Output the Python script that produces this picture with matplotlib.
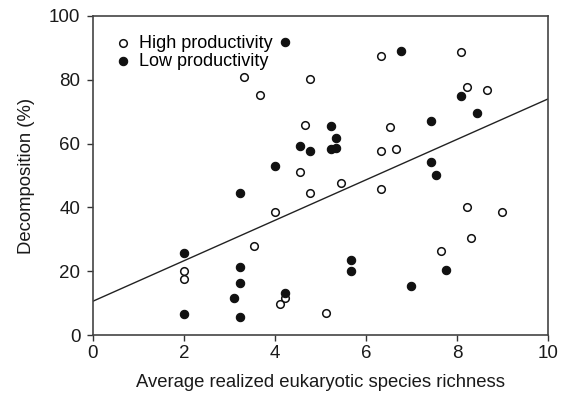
import matplotlib
matplotlib.use("Agg")
import matplotlib.pyplot as plt

plt.rcParams['font.family'] = ['Liberation Sans', 'DejaVu Sans']

high_x = [3.31, 4.77, 3.66, 4.65, 4.54, 4.78, 3.99, 3.53, 2.0, 2.0, 4.23, 4.10, 5.11,
          6.32, 8.09, 8.22, 8.66, 6.53, 6.32, 6.67, 5.44, 6.32, 8.22, 8.99, 8.31, 7.65]
high_y = [81.0, 80.3, 75.3, 65.8, 51.0, 44.5, 38.6, 28.0, 20.0, 17.6, 11.6, 9.7, 7.0,
          87.5, 88.7, 77.7, 76.8, 65.2, 57.7, 58.3, 47.6, 45.8, 40.1, 38.5, 30.4, 26.3]

low_x = [4.23, 6.78, 8.09, 8.44, 7.43, 5.22, 5.33, 4.54, 4.77, 5.22, 5.33, 7.43, 7.54,
         3.99, 3.22, 2.0, 3.22, 3.22, 3.09, 2.0, 3.22, 4.23, 5.66, 5.66, 7.76, 6.99]
low_y = [91.8, 89.0, 74.9, 69.6, 67.1, 65.5, 61.8, 59.3, 57.7, 58.3, 58.6, 54.2, 50.1,
         53.0, 44.5, 25.7, 21.3, 16.3, 11.6, 6.5, 5.7, 13.2, 23.5, 20.1, 20.4, 15.4]

fit_intercept = 10.6
fit_slope = 6.34

x_ticks = [0, 2, 4, 6, 8, 10]
y_ticks = [0, 20, 40, 60, 80, 100]

fig = plt.figure(figsize=(5.71, 3.93), dpi=100)
ax = fig.add_axes([93/571, 1 - 335/393, (548 - 93)/571, (335 - 16)/393])

ax.plot([0, 10], [fit_intercept, fit_intercept + fit_slope * 10], color='#222222', lw=1.0, zorder=1)
ax.scatter(high_x, high_y, s=30, facecolors='white', edgecolors='#111111', linewidths=1.1,
           zorder=3, label='High productivity')
ax.scatter(low_x, low_y, s=36, facecolors='#111111', edgecolors='#111111', linewidths=0.8,
           zorder=3, label='Low productivity')

ax.set_xlim(0, 10)
ax.set_ylim(0, 100)
ax.set_xticks(x_ticks)
ax.set_yticks(y_ticks)
ax.tick_params(direction='out', length=4, width=1, colors='#333333', labelsize=13.5,
               labelcolor='#1a1a1a')
ax.tick_params(axis='y', pad=5)
ax.tick_params(axis='x', pad=3)
for s in ax.spines.values():
    s.set_color('#444444')
    s.set_linewidth(1.2)

ax.set_xlabel('Average realized eukaryotic species richness', fontsize=13.3, color='#1a1a1a', labelpad=9)
ax.set_ylabel('Decomposition (%)', fontsize=13.3, color='#1a1a1a', labelpad=10)

leg = ax.legend(loc='upper left', bbox_to_anchor=(0.014, 0.98), frameon=False, fontsize=13,
                handletextpad=0.3, borderaxespad=0.3, labelspacing=0.05, handlelength=1.2)

fig.savefig('out.png', dpi=100)
